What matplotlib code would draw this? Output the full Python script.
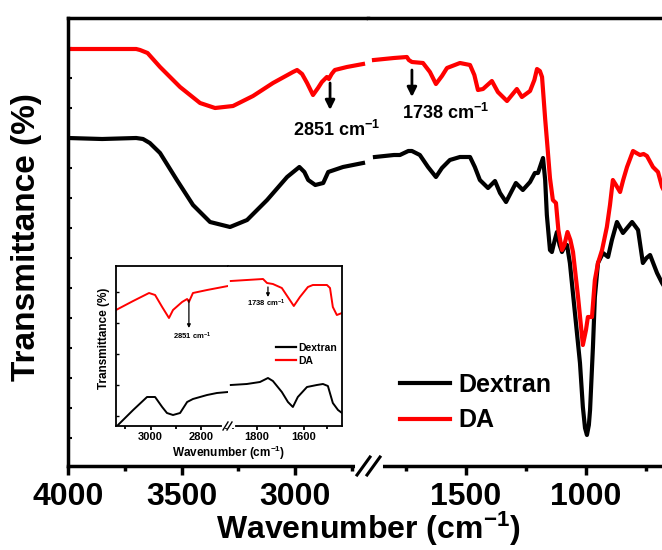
import matplotlib
matplotlib.use("Agg")
import matplotlib.pyplot as plt
from matplotlib.lines import Line2D
import numpy as np

plt.rcParams['font.family'] = ['Liberation Sans', 'DejaVu Sans']
plt.rcParams['font.weight'] = 'bold'
plt.rcParams['mathtext.fontset'] = 'custom'
plt.rcParams['mathtext.rm'] = 'Liberation Sans:bold'
plt.rcParams['mathtext.bf'] = 'Liberation Sans:bold'
plt.rcParams['mathtext.default'] = 'bf'

# ---------------- data (main plot) ----------------
# DA, high wavenumber segment
da_wn_hi = [4000, 3850, 3700, 3683, 3650, 3595, 3507, 3419, 3353, 3274, 3186, 3098, 3010, 2992,
            2970, 2948, 2922, 2900, 2883, 2861, 2852, 2840, 2826, 2773, 2702]
da_t_hi = [417, 417, 417, 416, 413, 399, 379, 363, 358, 360, 370, 383, 394, 396,
           392, 383, 371, 378, 384, 389, 387, 392, 396, 399, 402]
# DA, low wavenumber segment
da_wn_lo = [1883, 1800, 1746, 1738, 1725, 1679, 1650, 1625, 1600, 1579, 1525, 1483, 1465, 1450,
            1429, 1392, 1367, 1329, 1288, 1267, 1233, 1215, 1204, 1192, 1183, 1170, 1160, 1150,
            1138, 1125, 1115, 1100, 1090, 1077, 1065, 1054, 1033, 1013, 1000, 992, 975, 963,
            950, 933, 913, 900, 888, 875, 858, 845, 829, 804, 790, 775, 760, 746, 721, 700,
            683, 665]
da_t_lo = [406, 408, 409, 406, 404, 403, 394, 382, 390, 398, 403, 401, 391, 376,
           377, 385, 374, 365, 377, 369, 375, 386, 397, 395, 389, 347, 318, 288,
           266, 263, 236, 216, 221, 234, 226, 214, 169, 121, 136, 149, 149, 186,
           203, 216, 239, 261, 286, 281, 274, 286, 299, 315, 313, 311, 312, 310, 299, 294,
           279, 271]
# Dextran, high wavenumber segment
dx_wn_hi = [4000, 3850, 3700, 3670, 3640, 3595, 3521, 3450, 3375, 3287, 3212, 3124, 3036, 2982,
            2960, 2943, 2912, 2877, 2855, 2790, 2702]
dx_t_hi = [328, 327, 328, 327, 323, 313, 286, 261, 244, 239, 246, 266, 289, 299,
           294, 286, 281, 283, 294, 299, 303]
# Dextran, low wavenumber segment
dx_wn_lo = [1879, 1800, 1775, 1740, 1725, 1692, 1658, 1625, 1600, 1567, 1525, 1483, 1463, 1442,
            1408, 1379, 1358, 1333, 1292, 1263, 1233, 1213, 1200, 1179, 1170, 1163, 1150, 1142,
            1130, 1121, 1110, 1100, 1090, 1079, 1067, 1046, 1025, 1013, 1004, 996, 988, 983,
            971, 963, 950, 929, 908, 892, 871, 846, 808, 783, 763, 748, 733, 704, 683, 665]
dx_t_lo = [309, 311, 311, 315, 315, 311, 299, 289, 298, 306, 309, 309, 299, 286,
           278, 285, 273, 264, 283, 276, 284, 293, 293, 308, 286, 251, 216, 214,
           226, 234, 221, 214, 219, 221, 203, 153, 103, 59, 38, 31, 41, 56,
           119, 169, 203, 213, 209, 226, 244, 233, 244, 236, 203, 208, 211, 193, 183, 176]

# ---------------- data (inset) ----------------
ida_wn_hi = [3137, 3069, 3006, 2982, 2954, 2927, 2911, 2875, 2855, 2848, 2832, 2776, 2693]
ida_t_hi = [116, 125, 133, 131, 119, 108, 116, 124, 127, 124, 133, 136, 140]
ida_wn_lo = [1911, 1843, 1774, 1757, 1732, 1694, 1660, 1643, 1617, 1583, 1562, 1502, 1489,
             1477, 1460, 1438]
ida_t_lo = [145, 146, 147, 143, 142, 138, 126, 120, 129, 139, 141, 141, 138, 119, 111, 113]
idx_wn_hi = [3137, 3129, 3069, 3014, 2982, 2954, 2935, 2911, 2883, 2855, 2832, 2776, 2737, 2693]
idx_t_hi = [-2, 1, 16, 29, 29, 19, 13, 11, 13, 24, 27, 31, 33, 34]
idx_wn_lo = [1911, 1843, 1787, 1753, 1732, 1694, 1668, 1647, 1626, 1587, 1545, 1519, 1498,
             1477, 1455, 1438]
idx_t_lo = [41, 42, 44, 48, 45, 34, 24, 19, 29, 39, 41, 42, 40, 23, 16, 13]

series_labels = ['Dextran', 'DA']
series_colors = ['black', 'red']
main_ticks_hi = [4000, 3500, 3000]
main_minor_hi = [3750, 3250, 2750]
main_ticks_lo = [1500, 1000]
main_minor_lo = [1750, 1250, 750]
inset_ticks_hi = [3000, 2800]
inset_minor_hi = [3100, 2900, 2700]
inset_ticks_lo = [1800, 1600]
inset_minor_lo = [1900, 1700, 1500]
peak_labels = ['2851 cm$^{-1}$', '1738 cm$^{-1}$']

# ---------------- layout helpers ----------------
W, H = 662, 550
fig = plt.figure(figsize=(W / 100, H / 100), dpi=100)


def rect(x0, y0, x1, y1):
    return [x0 / W, 1 - y1 / H, (x1 - x0) / W, (y1 - y0) / H]


def fp(x, y):
    return (x / W, 1 - y / H)


SP = 2.5
ax1 = fig.add_axes(rect(68, 18, 368, 466))
ax2 = fig.add_axes(rect(368, 18, 670, 466))
ax1.set_xlim(4000, 2680)
ax2.set_xlim(1908, 650)
for a in (ax1, ax2):
    a.set_ylim(0, 448)
    for s in a.spines.values():
        s.set_linewidth(SP)
    a.tick_params(axis='x', which='major', direction='out', length=6.5, width=SP,
                  labelsize=23, pad=5)
    a.tick_params(axis='x', which='minor', direction='out', length=3.5, width=SP)
ax1.spines['right'].set_visible(False)
ax2.spines['left'].set_visible(False)
ax1.set_yticks(np.arange(28, 440, 30))
ax1.tick_params(axis='y', direction='in', length=3, width=1.5, labelleft=False)
ax2.tick_params(axis='y', left=False, right=False, labelleft=False)
ax1.set_xticks(main_ticks_hi)
ax1.set_xticks(main_minor_hi, minor=True)
ax2.set_xticks(main_ticks_lo)
ax2.set_xticks(main_minor_lo, minor=True)
ax1.set_xticklabels([str(v) for v in main_ticks_hi], fontweight='bold')
ax2.set_xticklabels([str(v) for v in main_ticks_lo], fontweight='bold')

LW = 3
ax1.plot(dx_wn_hi, dx_t_hi, color=series_colors[0], lw=LW, solid_joinstyle='round')
ax1.plot(da_wn_hi, da_t_hi, color=series_colors[1], lw=LW, solid_joinstyle='round')
ax2.plot(dx_wn_lo, dx_t_lo, color=series_colors[0], lw=LW, solid_joinstyle='round')
ax2.plot(da_wn_lo, da_t_lo, color=series_colors[1], lw=LW, solid_joinstyle='round')

# annotations on main plot
arrow_kw = dict(arrowstyle='-|>', color='black', lw=2, mutation_scale=14,
                shrinkA=0, shrinkB=0)
ax1.annotate('', xy=(2847, 356), xytext=(2847, 383), arrowprops=arrow_kw)
ax2.annotate('', xy=(1725, 369), xytext=(1725, 396), arrowprops=arrow_kw)
fig.text(*fp(337, 130), peak_labels[0], fontsize=13, fontweight='bold', ha='center', va='center')
fig.text(*fp(446, 113), peak_labels[1], fontsize=13, fontweight='bold', ha='center', va='center')

# axis labels
fig.text(*fp(368, 529), 'Wavenumber (cm$^{-1}$)', fontsize=23, fontweight='bold',
         ha='center', va='center')
fig.text(*fp(27, 237), 'Transmittance (%)', fontsize=24, fontweight='bold',
         ha='center', va='center', rotation=90)

# legend
handles = [Line2D([], [], color=c, lw=LW) for c in series_colors]
fig.legend(handles, series_labels, loc='upper left', bbox_to_anchor=fp(400, 373),
           frameon=False, handlelength=2.0, handletextpad=0.35,
           labelspacing=0.45, borderpad=0, borderaxespad=0,
           prop={'weight': 'bold', 'size': 18})

# break marks on main bottom spine
fig.add_artist(Line2D([358 / W, 379 / W], [1 - 466 / H] * 2, color='white', lw=5,
                      transform=fig.transFigure, zorder=3))
for dx in (0, 10):
    fig.add_artist(Line2D([(357 + dx) / W, (370 + dx) / W], [1 - 475 / H, 1 - 457 / H],
                          color='black', lw=2.2, transform=fig.transFigure, zorder=4))

# ---------------- inset ----------------
in1 = fig.add_axes(rect(116, 266, 228, 426), zorder=5)
in2 = fig.add_axes(rect(228, 266, 342, 426), zorder=5)
in1.set_xlim(3137, 2693)
in2.set_xlim(1923, 1438)
ISP = 1.3
for a in (in1, in2):
    a.set_ylim(0, 160)
    a.set_facecolor('white')
    for s in a.spines.values():
        s.set_linewidth(ISP)
    a.tick_params(axis='x', which='major', direction='out', length=3, width=ISP,
                  labelsize=8, pad=1.5)
    a.tick_params(axis='x', which='minor', direction='out', length=2, width=ISP)
in1.spines['right'].set_visible(False)
in2.spines['left'].set_visible(False)
in1.set_yticks(np.arange(10, 160, 31))
in1.tick_params(axis='y', direction='in', length=2.5, width=1, labelleft=False)
in2.tick_params(axis='y', left=False, right=False, labelleft=False)
in1.set_xticks(inset_ticks_hi)
in1.set_xticks(inset_minor_hi, minor=True)
in2.set_xticks(inset_ticks_lo)
in2.set_xticks(inset_minor_lo, minor=True)
in1.set_xticklabels([str(v) for v in inset_ticks_hi], fontweight='bold')
in2.set_xticklabels([str(v) for v in inset_ticks_lo], fontweight='bold')

ILW = 1.4
in1.plot(idx_wn_hi, idx_t_hi, color=series_colors[0], lw=ILW)
in1.plot(ida_wn_hi, ida_t_hi, color=series_colors[1], lw=ILW)
in2.plot(idx_wn_lo, idx_t_lo, color=series_colors[0], lw=ILW)
in2.plot(ida_wn_lo, ida_t_lo, color=series_colors[1], lw=ILW)

iarrow = dict(arrowstyle='-|>', color='black', lw=0.9, mutation_scale=5,
              shrinkA=0, shrinkB=0)
in1.annotate('', xy=(2848, 98), xytext=(2848, 126), arrowprops=iarrow)
in2.annotate('', xy=(1753, 129), xytext=(1753, 139), arrowprops=iarrow)
fig.text(*fp(192, 336), peak_labels[0], fontsize=5.5, fontweight='bold', ha='center',
         va='center', zorder=6)
fig.text(*fp(266, 303), peak_labels[1], fontsize=5.5, fontweight='bold', ha='center',
         va='center', zorder=6)

fig.text(*fp(229, 453), 'Wavenumber (cm$^{-1}$)', fontsize=8.5, fontweight='bold',
         ha='center', va='center')
fig.text(*fp(104, 338), 'Transmittance (%)', fontsize=8.5, fontweight='bold',
         ha='center', va='center', rotation=90)

ihandles = [Line2D([], [], color=c, lw=1.6) for c in series_colors]
leg2 = fig.legend(ihandles, series_labels, loc='upper left', bbox_to_anchor=fp(276, 343),
                  frameon=False, handlelength=1.9, handletextpad=0.2,
                  labelspacing=0.3, borderpad=0, borderaxespad=0,
                  prop={'weight': 'bold', 'size': 7.5})
leg2.set_zorder(6)

# inset break marks
fig.add_artist(Line2D([224 / W, 233 / W], [1 - 426 / H] * 2, color='white', lw=3,
                      transform=fig.transFigure, zorder=6))
for dx in (0, 4):
    fig.add_artist(Line2D([(223 + dx) / W, (228 + dx) / W], [1 - 430 / H, 1 - 422 / H],
                          color='black', lw=1, transform=fig.transFigure, zorder=7))

fig.savefig('out.png', dpi=100)
